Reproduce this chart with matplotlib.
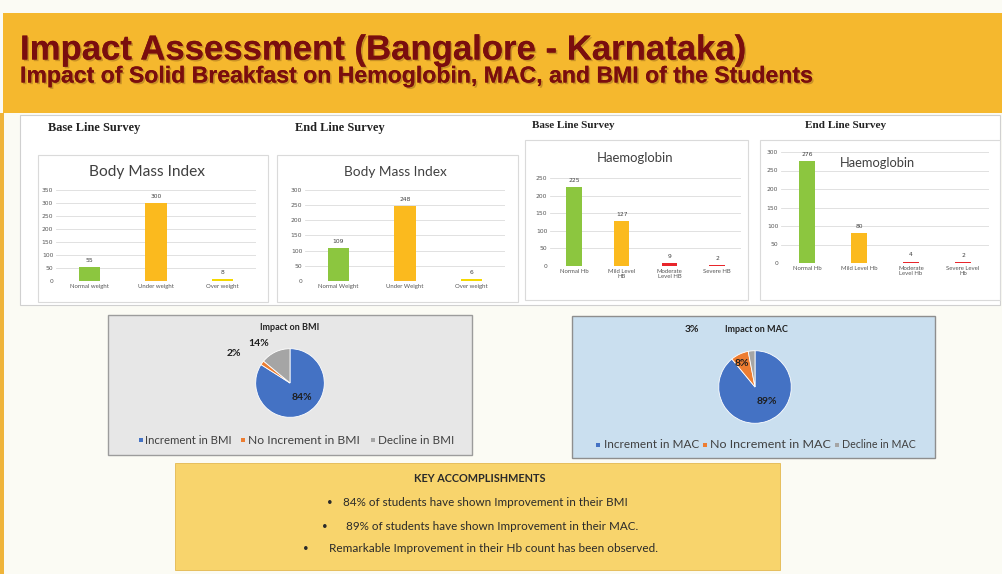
import matplotlib
matplotlib.use('Agg')
import matplotlib.pyplot as plt
from matplotlib.patches import Rectangle
import matplotlib.patheffects as pe

# ---------------- data ----------------
bmi_cats_base = ['Normal weight', 'Under weight', 'Over weight']
bmi_base = [55, 300, 8]
bmi_cats_end = ['Normal Weight', 'Under Weight', 'Over weight']
bmi_end = [109, 248, 6]
hb_cats_base = ['Normal Hb', 'Mild Level\nHB', 'Moderate\nLevel HB', 'Severe HB']
hb_base = [225, 127, 9, 2]
hb_cats_end = ['Normal Hb', 'Mild Level Hb', 'Moderate\nLevel Hb', 'Severe Level\nHb']
hb_end = [276, 80, 4, 2]
bmi_pie_labels = ['Increment in BMI', 'No Increment in BMI', 'Decline in BMI']
bmi_pie = [84, 2, 14]
mac_pie_labels = ['Increment in MAC', 'No Increment in MAC', 'Decline in MAC']
mac_pie = [89, 8, 3]
key_title = 'KEY ACCOMPLISHMENTS'
key_points = ['84% of students have shown Improvement in their BMI',
              '89% of students have shown Improvement in their MAC.',
              'Remarkable Improvement in their Hb count has been observed.']
title = 'Impact Assessment (Bangalore - Karnataka)'
subtitle = 'Impact of Solid Breakfast on Hemoglobin, MAC, and BMI of the Students'

GREEN = '#8CC63F'
ORANGE = '#FBBA1E'
YELLOW = '#F5D800'
RED = '#E8262B'
PIE_COLORS = ['#4472C4', '#ED7D31', '#A5A5A5']

W, H = 1002, 574
fig = plt.figure(figsize=(W / 100, H / 100), dpi=100)
fig.patch.set_facecolor('#FBFBF4')

bg = fig.add_axes([0, 0, 1, 1])
bg.set_xlim(0, W)
bg.set_ylim(H, 0)
bg.axis('off')
renderer = fig.canvas.get_renderer()


def box(x0, y0, x1, y1):
    return [x0 / W, 1 - y1 / H, (x1 - x0) / W, (y1 - y0) / H]


def rect(x0, y0, x1, y1, fc, ec='none', lw=0.8, z=1):
    bg.add_patch(Rectangle((x0, y0), x1 - x0, y1 - y0, facecolor=fc,
                           edgecolor=ec, linewidth=lw, zorder=z))


def fit_text(ax, x, y, s, width, ha='left', va='center', **kw):
    t = ax.text(x, y, s, ha=ha, va=va, fontsize=10, **kw)
    w = t.get_window_extent(renderer=renderer).width
    t.set_fontsize(10 * width / w)
    return t


# ---------------- banner ----------------
rect(3, 13, W, 113, '#F5B82E')
rect(0, 113, 4, H, '#EFB43A')
shadow = [pe.withSimplePatchShadow(offset=(1.2, -1.2), shadow_rgbFace='#9a6a20', alpha=0.5), pe.Normal()]
fit_text(bg, 20, 50, title, 725, family='Liberation Sans', weight='bold', color='#7A0E0E',
         path_effects=shadow)
fit_text(bg, 20, 76, subtitle, 792, family='Liberation Sans', weight='bold', color='#7A0E0E',
         path_effects=shadow)

# ---------------- bar panel ----------------
rect(20, 115, 1000, 305, 'white', '#D0D0D0', 0.8)
for fr in [(38, 155, 268, 302), (277, 155, 518, 302), (525, 140, 748, 300), (760, 140, 1000, 300)]:
    rect(*fr, 'white', '#DADADA', 0.8, z=2)

serif = dict(family=['Liberation Serif', 'DejaVu Serif'], weight='bold', color='#222222')
fit_text(bg, 48, 128, 'Base Line Survey', 93, **serif)
fit_text(bg, 295, 128, 'End Line Survey', 90, **serif)
fit_text(bg, 532, 125, 'Base Line Survey', 83, **serif)
fit_text(bg, 805, 125, 'End Line Survey', 82, **serif)

ctitle = dict(family='Lato', color='#404040', ha='center')
fit_text(bg, 147, 172, 'Body Mass Index', 117, **ctitle)
fit_text(bg, 395, 172, 'Body Mass Index', 102, **ctitle)
fit_text(bg, 635, 158, 'Haemoglobin', 77, **ctitle)
fit_text(bg, 877, 163, 'Haemoglobin', 76, **ctitle)


def bar_chart(px, cats, vals, colors, ymax, width):
    ax = fig.add_axes(box(*px))
    ax.set_facecolor('none')
    xs = list(range(len(vals)))
    ax.bar(xs, vals, width=width, color=colors, zorder=3)
    ax.set_xlim(-0.5, len(vals) - 0.5)
    ax.set_ylim(0, ymax)
    ax.set_yticks(range(0, ymax + 1, 50))
    ax.yaxis.grid(True, color='#DCDCDC', lw=0.6)
    ax.set_axisbelow(True)
    for s in ax.spines.values():
        s.set_visible(False)
    ax.tick_params(length=0, labelsize=4.3, colors='#555555', pad=2)
    ax.set_xticks(xs)
    ax.set_xticklabels(cats, fontsize=4.3, family='Lato', linespacing=1.0)
    for x, v in zip(xs, vals):
        ax.annotate(str(v), (x, v), xytext=(0, 3), textcoords='offset points',
                    ha='center', va='bottom', fontsize=4.3, color='#404040')
    return ax


bar_chart((56, 190, 256, 281), bmi_cats_base, bmi_base, [GREEN, ORANGE, YELLOW], 350, 0.32)
bar_chart((305, 190, 505, 281), bmi_cats_end, bmi_end, [GREEN, ORANGE, YELLOW], 300, 0.32)
bar_chart((550, 178, 741, 266), hb_cats_base, hb_base, [GREEN, ORANGE, RED, RED], 250, 0.32)
bar_chart((781, 152, 989, 263), hb_cats_end, hb_end, [GREEN, ORANGE, RED, RED], 300, 0.29)

# ---------------- pies ----------------
rect(108, 315, 472, 455, '#E7E7E7', '#9C9C9C', 1.0)
rect(572, 316, 935, 458, '#CADFEF', '#8E8E8E', 1.0)


def pie(px, vals):
    ax = fig.add_axes(box(*px))
    ax.pie(vals, colors=PIE_COLORS, startangle=90, counterclock=False,
           wedgeprops=dict(edgecolor='white', linewidth=0.6))
    ax.set_xlim(-1.02, 1.02)
    ax.set_ylim(-1.02, 1.02)
    ax.set_aspect('equal')
    ax.axis('off')
    return ax


pie((255, 348, 325, 418), bmi_pie)
pie((718, 350, 792, 424), mac_pie)

# overlay for texts above the pies
fg = fig.add_axes([0, 0, 1, 1], zorder=10)
fg.set_facecolor('none')
fg.set_xlim(0, W)
fg.set_ylim(H, 0)
fg.axis('off')

pl = dict(weight='bold', color='#1E1E1E', family='Lato', ha='center', va='center', fontsize=7.5)
fg.text(290, 327, 'Impact on BMI', weight='bold', color='#222222', family='Lato', ha='center',
        va='center', fontsize=6.5)
fg.text(302, 398, f'{bmi_pie[0]}%', **pl)
fg.text(234, 353, f'{bmi_pie[1]}%', **pl)
fg.text(259, 344, f'{bmi_pie[2]}%', **pl)

fg.text(756, 329, 'Impact on MAC', weight='bold', color='#222222', family='Lato', ha='center',
        va='center', fontsize=6.5)
fg.text(767, 401, f'{mac_pie[0]}%', **pl)
fg.text(742, 363, f'{mac_pie[1]}%', **pl)
fg.text(692, 329, f'{mac_pie[2]}%', **pl)


def legend(y, marks, texts, widths):
    for (mx, tx), s, w, c in zip(marks, texts, widths, PIE_COLORS):
        fg.add_patch(Rectangle((mx - 2, y - 2), 4, 4, facecolor=c, edgecolor='none'))
        fit_text(fg, tx, y, s, w, family='Lato', color='#404040')


legend(440, [(141, 145), (243, 248), (373, 378)], bmi_pie_labels, [87, 112, 75])
legend(445, [(598, 604), (705, 710), (837, 842)], mac_pie_labels, [95, 120, 73])

# ---------------- key accomplishments ----------------
rect(175, 463, 780, 570, '#F8D46C', '#E3B850', 0.6)
kt = dict(family='Lato', color='#2A2A2A')
fit_text(fg, 480, 479, key_title, 132, ha='center', weight='bold', **kt)
bx = [330, 325, 306]
tx = [(343, 282), (346, 290), (329, 326)]
for yy, b, (x0, w), s in zip([503, 527, 549], bx, tx, key_points):
    fg.text(b, yy, '•', ha='center', va='center', fontsize=7, **kt)
    fit_text(fg, x0, yy, s, w, **kt)

fig.savefig('out.png', dpi=100, facecolor=fig.get_facecolor())
